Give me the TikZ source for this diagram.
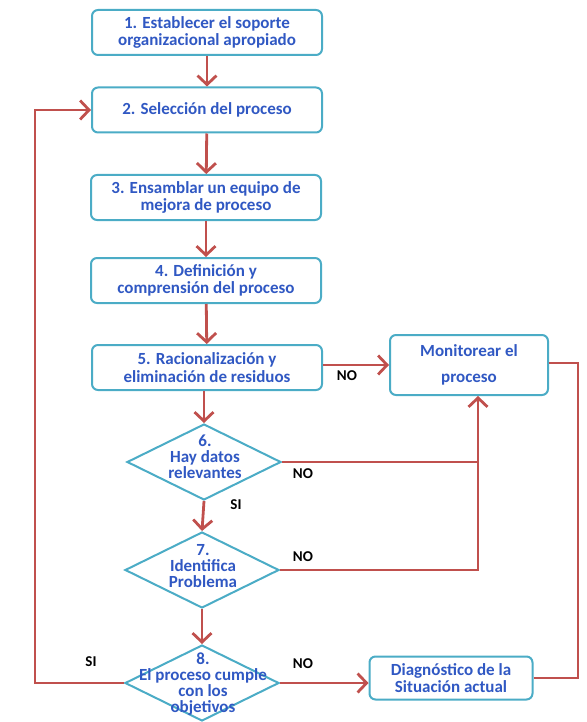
\documentclass[tikz,border=0pt]{standalone}
\usepackage{fontspec}
\setmainfont{Carlito}
\usetikzlibrary{shapes.geometric,arrows.meta,calc}
\definecolor{boxline}{RGB}{75,172,198}
\definecolor{boxtext}{RGB}{48,88,195}
\definecolor{flow}{RGB}{192,80,77}
\tikzset{
  steptext/.style={align=center, inner sep=0pt,
    font=\fontsize{17}{17.5}\selectfont\bfseries, text=boxtext},
  stepbox/.style={draw=boxline, line width=2pt, rounded corners=6pt, fill=white,
    minimum width=230pt, minimum height=45pt, steptext, inner sep=2pt},
  decision/.style={diamond, draw=boxline, line width=2pt, fill=white,
    minimum width=154pt, minimum height=76pt, inner sep=0pt},
  dtext/.style={steptext, font=\fontsize{17}{16}\selectfont\bfseries},
  arr/.style={draw=flow, line width=2.8pt, -{Straight Barb[length=9pt,width=19pt,line width=2.8pt]}},
  plain/.style={draw=flow, line width=2.8pt},
  lbl/.style={font=\fontsize{15}{16}\selectfont\bfseries, text=black}
}
\begin{document}
\begin{tikzpicture}[x=1pt,y=-1pt]
\useasboundingbox (0,0) rectangle (586,722);

% main column of steps
\node[stepbox] (s1) at (207,32.5) {1. Establecer el soporte\\organizacional apropiado};
\node[stepbox] (s2) at (207,110) {2. Selección del proceso};
\node[stepbox] (s3) at (206,197.5) {3. Ensamblar un equipo de\\mejora de proceso};
\node[stepbox] (s4) at (206,280.5) {4. Definición y\\comprensión del proceso};
\node[stepbox] (s5) at (207,367.5) {5. Racionalización y\\eliminación de residuos};

% decisions: fixed-size diamonds with their text laid on top
\node[decision] (d6) at (204,462) {};
\node[decision] (d7) at (202,570) {};
\node[decision] (d8) at (202,683) {};
\node[dtext] (d6t) at (205,457) {6.\\Hay datos\\relevantes};
\node[dtext] (d7t) at (203,566) {7.\\Identifica\\Problema};
\node[dtext] (d8t) at (203,684) {8.\\El proceso cumple\\con los\\objetivos};

% side boxes
\node[stepbox, minimum width=158pt, minimum height=60pt] (mon) at (469,365) {Monitorear el\\[8pt]proceso};
\node[stepbox, minimum width=163pt, minimum height=43pt] (diag) at (451,678) {Diagnóstico de la\\Situación actual};

% vertical flow
\draw[arr] (s1) -- (s2);
\draw[arr] (s2) -- (s3);
\draw[arr] (s3) -- (s4);
\draw[arr] (s4) -- (s5);
\draw[arr] (s5.south -| d6.north) -- (d6.north);
\draw[arr] (d6.south) -- (d7.north);
\draw[arr] (d7.south) -- (d8.north);

% NO branches towards monitoring
\draw[arr] (s5.east |- mon.west) -- (mon.west);
\coordinate (up) at ($(mon.south)+(9,0)$);
\draw[arr] (d7.east) -| (up);
\draw[plain] (d6.east) -- (d6.east -| up);
\draw[arr] (d8.east) -- (d8.east -| diag.west);

% loop back from the diagnosis to monitoring
\coordinate (rr) at (578,363);
\draw[plain] (diag.east) -| (rr) -- (rr -| mon.east);

% SI loop back to step 2
\coordinate (ll) at (35,110);
\draw[arr] (d8.west) -| (ll) -- (s2.west);

% branch labels
\node[lbl] (no5) at (347,376) {NO};
\node[lbl] (no6) at (303,474) {NO};
\node[lbl] (si6) at (236,505) {SI};
\node[lbl] (no7) at (303,557) {NO};
\node[lbl] (no8) at (303,664) {NO};
\node[lbl] (si8) at (91,662) {SI};
\end{tikzpicture}
\end{document}
